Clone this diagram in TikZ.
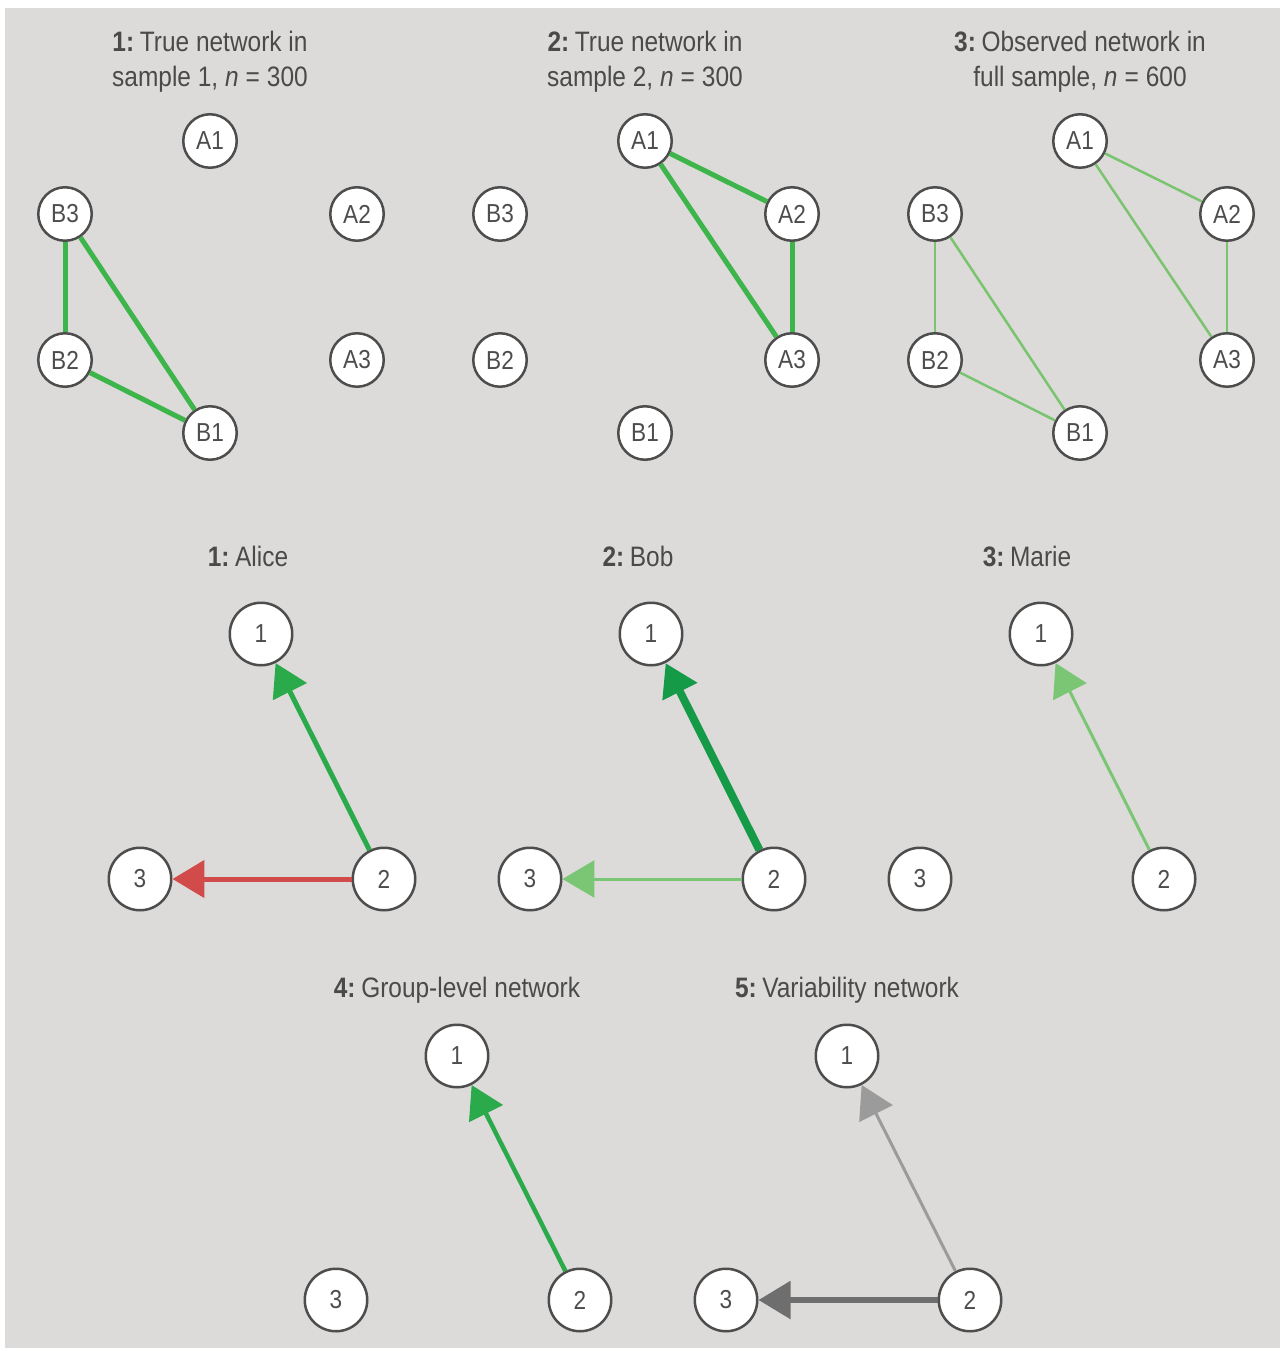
\documentclass[tikz,border=0pt]{standalone}
\usepackage{fontspec}
\setmainfont{Liberation Sans}[FakeStretch=0.87]
\usetikzlibrary{arrows.meta}

\definecolor{panelbg}{RGB}{220,219,217}
\definecolor{nodeline}{RGB}{77,77,77}
\definecolor{titlegray}{RGB}{74,74,74}
\definecolor{truegreen}{RGB}{61,181,74}
\definecolor{obsgreen}{RGB}{122,196,112}
\definecolor{midgreen}{RGB}{42,170,74}
\definecolor{darkgreen}{RGB}{21,154,72}
\definecolor{lightgreen}{RGB}{122,198,116}
\definecolor{negred}{RGB}{209,75,75}
\definecolor{lightgray}{RGB}{155,155,155}
\definecolor{darkgray}{RGB}{110,110,110}

\newcommand{\panelno}[1]{\textbf{#1:}\hskip0.2em}
\newcommand{\nsize}[1]{\textit{n}\hskip0.25em=\hskip0.25em#1}

\tikzstyle{var} = [
    circle,
    draw=nodeline,
    line width=0.05cm,
    fill=white,
    text=nodeline,
    minimum size=1.07cm,
    inner sep=0pt,
    font=\fontsize{14.8}{16}\selectfont
]
\tikzstyle{bigvar} = [var, minimum size=1.25cm]
\tikzstyle{title} = [
    text=titlegray,
    align=center,
    font=\fontsize{16}{19.9}\selectfont
]
\tikzstyle{edge} = [line width=0.1cm, truegreen]
\tikzstyle{thinedge} = [line width=0.05cm, obsgreen]
\tikzstyle{arrow} = [-{Triangle[length=0.64cm, width=0.74cm]}]

\begin{document}
\begin{tikzpicture}[x=0.02cm, y=-0.02cm]
    \useasboundingbox (0,0) rectangle (1280,1351);
    \fill[panelbg] (5,8) rectangle (1280,1348);

    % top row: true networks and the pooled one
    \node (t1) [title] at (210,62) {\panelno{1}True network in\\sample 1, \nsize{300}};
    \node (t2) [title] at (645,62) {\panelno{2}True network in\\sample 2, \nsize{300}};
    \node (t3) [title] at (1080,62) {\panelno{3}Observed network in\\full sample, \nsize{600}};

    \foreach \p/\x in {s/0, r/435, f/870} {
        \node (\p a1) [var] at (210+\x,141) {A1};
        \node (\p a2) [var] at (357+\x,214) {A2};
        \node (\p a3) [var] at (357+\x,360) {A3};
        \node (\p b1) [var] at (210+\x,433) {B1};
        \node (\p b2) [var] at (65+\x,360) {B2};
        \node (\p b3) [var] at (65+\x,214) {B3};
    }

    \draw [edge] (sb3) -- (sb2);
    \draw [edge] (sb3) -- (sb1);
    \draw [edge] (sb2) -- (sb1);

    \draw [edge] (ra1) -- (ra2);
    \draw [edge] (ra1) -- (ra3);
    \draw [edge] (ra2) -- (ra3);

    \draw [thinedge] (fb3) -- (fb2);
    \draw [thinedge] (fb3) -- (fb1);
    \draw [thinedge] (fb2) -- (fb1);
    \draw [thinedge] (fa1) -- (fa2);
    \draw [thinedge] (fa1) -- (fa3);
    \draw [thinedge] (fa2) -- (fa3);

    % middle row: one network per person
    \node (alice) [title] at (248,556) {\panelno{1}Alice};
    \node (bob) [title] at (638,556) {\panelno{2}Bob};
    \node (marie) [title] at (1027,556) {\panelno{3}Marie};

    \foreach \p/\x in {al/0, bo/390, ma/780} {
        \node (\p1) [bigvar] at (261+\x,634) {1};
        \node (\p2) [bigvar] at (384+\x,879) {2};
        \node (\p3) [bigvar] at (140+\x,879) {3};
    }

    \draw [arrow, line width=0.1cm, midgreen] (al2) -- (al1);
    \draw [arrow, line width=0.1cm, negred] (al2) -- (al3);
    \draw [arrow, line width=0.16cm, darkgreen] (bo2) -- (bo1);
    \draw [arrow, line width=0.06cm, lightgreen] (bo2) -- (bo3);
    \draw [arrow, line width=0.06cm, lightgreen] (ma2) -- (ma1);

    % bottom row: group and variability networks
    \node (group) [title] at (457,990) {\panelno{4}Group-level network};
    \node (vari) [title] at (847,990) {\panelno{5}Variability network};

    \foreach \p/\x in {gr/0, va/390} {
        \node (\p1) [bigvar] at (457+\x,1056) {1};
        \node (\p2) [bigvar] at (580+\x,1300) {2};
        \node (\p3) [bigvar] at (336+\x,1300) {3};
    }

    \draw [arrow, line width=0.09cm, midgreen] (gr2) -- (gr1);
    \draw [arrow, line width=0.06cm, lightgray] (va2) -- (va1);
    \draw [arrow, line width=0.11cm, darkgray] (va2) -- (va3);
\end{tikzpicture}
\end{document}
